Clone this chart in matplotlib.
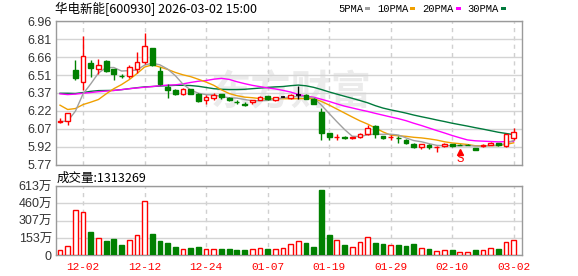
import numpy as np
import matplotlib
matplotlib.use("Agg")
import matplotlib.pyplot as plt
from matplotlib.patches import Rectangle

# ===== data (price in yuan, volume in 万)
dates = ['11-27', '11-28', '12-01', '12-02', '12-03', '12-04', '12-05', '12-08', '12-09', '12-10',
         '12-11', '12-12', '12-15', '12-16', '12-17', '12-18', '12-19', '12-22', '12-23', '12-24',
         '12-25', '12-26', '12-29', '12-30', '12-31', '01-05', '01-06', '01-07', '01-08', '01-09',
         '01-12', '01-13', '01-14', '01-15', '01-16', '01-19', '01-20', '01-21', '01-22', '01-23',
         '01-26', '01-27', '01-28', '01-29', '01-30', '02-02', '02-03', '02-04', '02-05', '02-06',
         '02-09', '02-10', '02-11', '02-12', '02-13', '02-24', '02-25', '02-26', '02-27', '03-02']
opens = [6.125, 6.128, 6.558, 6.456, 6.616, 6.564, 6.627, 6.564, 6.508, 6.508,
         6.564, 6.618, 6.740, 6.544, 6.412, 6.393, 6.355, 6.395, 6.357, 6.304,
         6.326, 6.357, 6.320, 6.292, 6.270, 6.288, 6.307, 6.340, 6.307, 6.334,
         6.324, 6.345, 6.346, 6.316, 6.205, 6.029, 5.995, 5.995, 5.988, 5.996,
         6.025, 6.087, 6.008, 5.997, 5.990, 5.973, 5.938, 5.919, 5.932, 5.917,
         5.921, 5.938, 5.935, 5.936, 5.908, 5.924, 5.932, 5.949, 5.924, 5.993]
closes = [6.132, 6.200, 6.489, 6.673, 6.569, 6.597, 6.547, 6.519, 6.505, 6.580,
          6.624, 6.753, 6.599, 6.436, 6.393, 6.357, 6.401, 6.359, 6.299, 6.332,
          6.351, 6.335, 6.304, 6.290, 6.268, 6.304, 6.332, 6.316, 6.332, 6.334,
          6.345, 6.345, 6.318, 6.274, 6.035, 6.000, 6.002, 5.993, 5.995, 6.020,
          6.076, 6.026, 5.988, 5.999, 5.988, 5.952, 5.919, 5.938, 5.916, 5.919,
          5.938, 5.924, 5.930, 5.931, 5.891, 5.936, 5.949, 5.932, 6.020, 6.043]
highs = [6.155, 6.200, 6.640, 6.841, 6.640, 6.646, 6.640, 6.564, 6.525, 6.597,
         6.701, 6.866, 6.740, 6.577, 6.442, 6.400, 6.405, 6.400, 6.365, 6.351,
         6.362, 6.357, 6.329, 6.310, 6.288, 6.304, 6.340, 6.343, 6.335, 6.340,
         6.360, 6.426, 6.355, 6.322, 6.241, 6.029, 6.021, 6.005, 5.998, 6.029,
         6.095, 6.095, 6.008, 6.015, 6.005, 5.982, 5.952, 5.938, 5.944, 5.927,
         5.946, 5.938, 5.938, 5.940, 5.908, 5.944, 5.955, 5.952, 6.020, 6.076]
lows = [6.111, 6.095, 6.475, 6.393, 6.494, 6.522, 6.539, 6.475, 6.486, 6.489,
        6.530, 6.607, 6.591, 6.431, 6.321, 6.350, 6.350, 6.355, 6.293, 6.274,
        6.302, 6.316, 6.299, 6.269, 6.252, 6.269, 6.302, 6.304, 6.300, 6.328,
        6.318, 6.316, 6.312, 6.274, 5.971, 5.971, 5.971, 5.980, 5.985, 5.988,
        6.015, 5.993, 5.985, 5.977, 5.952, 5.940, 5.911, 5.897, 5.899, 5.878,
        5.913, 5.919, 5.928, 5.928, 5.891, 5.918, 5.928, 5.925, 5.915, 5.973]
volumes = [44, 80, 398, 380, 206, 156, 124, 141, 88, 138,
           183, 477, 189, 127, 109, 71, 59, 62, 71, 53,
           53, 53, 53, 47, 47, 53, 68, 53, 53, 62,
           97, 124, 106, 71, 575, 177, 133, 88, 77, 115,
           165, 106, 97, 94, 88, 80, 97, 68, 53, 41,
           50, 44, 32, 32, 44, 50, 68, 53, 115, 131]
ma5 = [6.126, 6.131, 6.213, 6.357, 6.440, 6.530, 6.575, 6.576, 6.547, 6.550,
       6.555, 6.596, 6.612, 6.598, 6.563, 6.508, 6.437, 6.389, 6.362, 6.350,
       6.348, 6.335, 6.324, 6.322, 6.310, 6.300, 6.300, 6.302, 6.310, 6.324,
       6.332, 6.334, 6.335, 6.323, 6.263, 6.194, 6.126, 6.061, 6.005, 6.002,
       6.017, 6.022, 6.021, 6.022, 6.015, 5.991, 5.969, 5.959, 5.943, 5.929,
       5.926, 5.927, 5.925, 5.928, 5.923, 5.922, 5.927, 5.928, 5.946, 5.970]
ma10 = [6.263, 6.227, 6.235, 6.268, 6.288, 6.310, 6.357, 6.400, 6.434, 6.475,
        6.525, 6.580, 6.598, 6.580, 6.560, 6.535, 6.515, 6.500, 6.478, 6.455,
        6.428, 6.390, 6.360, 6.342, 6.330, 6.325, 6.318, 6.314, 6.317, 6.317,
        6.316, 6.317, 6.319, 6.317, 6.294, 6.264, 6.231, 6.198, 6.165, 6.133,
        6.106, 6.074, 6.041, 6.014, 6.009, 6.004, 5.996, 5.991, 5.983, 5.973,
        5.959, 5.949, 5.943, 5.936, 5.926, 5.925, 5.928, 5.927, 5.937, 5.950]
ma20 = [6.357, 6.351, 6.355, 6.362, 6.368, 6.375, 6.380, 6.385, 6.392, 6.400,
        6.406, 6.412, 6.418, 6.425, 6.430, 6.432, 6.440, 6.452, 6.462, 6.468,
        6.479, 6.486, 6.477, 6.458, 6.442, 6.428, 6.417, 6.407, 6.398, 6.386,
        6.372, 6.352, 6.338, 6.329, 6.312, 6.294, 6.274, 6.255, 6.240, 6.225,
        6.211, 6.195, 6.180, 6.165, 6.151, 6.134, 6.113, 6.094, 6.073, 6.052,
        6.032, 6.011, 5.992, 5.974, 5.967, 5.964, 5.961, 5.958, 5.960, 5.961]
ma30 = [6.362, 6.362, 6.360, 6.368, 6.378, 6.384, 6.385, 6.386, 6.392, 6.400,
        6.408, 6.415, 6.418, 6.422, 6.425, 6.428, 6.428, 6.426, 6.420, 6.410,
        6.400, 6.395, 6.393, 6.393, 6.395, 6.400, 6.405, 6.410, 6.415, 6.418,
        6.425, 6.430, 6.424, 6.411, 6.393, 6.373, 6.355, 6.337, 6.320, 6.302,
        6.283, 6.259, 6.239, 6.224, 6.211, 6.197, 6.181, 6.167, 6.154, 6.140,
        6.127, 6.113, 6.101, 6.089, 6.076, 6.064, 6.051, 6.038, 6.028, 6.018]

price_ticks = ['5.77', '5.92', '6.07', '6.22', '6.37', '6.51', '6.66', '6.81', '6.96']
vol_ticks = ['0', '153万', '307万', '460万', '613万']
date_labels = ['12-02', '12-12', '12-24', '01-07', '01-19', '01-29', '02-10', '03-02']
ma_names = ['5PMA', '10PMA', '20PMA', '30PMA']
title = "华电新能[600930] 2026-03-02 15:00"
last_volume = 1313269
signal_date, signal_text = '02-11', 'S'

# ===== styles
RED = '#ff0000'
GREEN = '#008000'
GRID = '#d4d4d4'
FRAME = '#9a9a9a'
MA_COLORS = ['#a0a0a0', '#f0a000', '#ff00ff', '#007a3c']
CJK = ['Noto Sans CJK SC', 'DejaVu Sans']
NUM = ['Liberation Sans', 'Noto Sans CJK SC']
MONO = 'Liberation Mono'

x = np.arange(len(dates))
o, c, h, l = map(np.asarray, (opens, closes, highs, lows))
vol = np.asarray(volumes)
W = 0.62

fig = plt.figure(figsize=(5.78, 2.76), dpi=100)
ax = fig.add_axes([56 / 578, 1 - 164.5 / 276, 466 / 578, 143.2 / 276])
axv = fig.add_axes([56 / 578, 1 - 255.3 / 276, 466 / 578, 69.3 / 276], sharex=ax)

date_pos = [dates.index(d) for d in date_labels]

for a in (ax, axv):
    for s in a.spines.values():
        s.set_color(FRAME)
        s.set_linewidth(1)
    a.tick_params(length=0, colors='#333333')
    a.set_xticks(date_pos)
    a.grid(axis='y', color=GRID, lw=1, ls='-', zorder=0)
    a.grid(axis='x', color='#d0d0d0', lw=1, ls=(0, (3, 3)), zorder=0)
    a.set_axisbelow(True)

ax.set_xlim(-0.52, len(dates) + 0.08)

# ===== price panel
pt = [float(t) for t in price_ticks]
ax.set_ylim(pt[0], pt[-1])
ax.set_yticks(np.linspace(pt[0], pt[-1], len(pt)))
ax.set_yticklabels(price_ticks, fontsize=9, family=NUM)
ax.tick_params(axis='y', pad=3)
ax.tick_params(axis='x', labelbottom=False)

ax.text(0.505, 0.5, '东方财富', transform=ax.transAxes, fontsize=29,
        family=CJK, fontweight='bold', color='#ebebeb', ha='center', va='center', zorder=0.5)

for ma, col in zip((ma30, ma20, ma10, ma5), MA_COLORS[::-1]):
    ax.plot(x, ma, color=col, lw=1, zorder=2)

up = c > o
dn = c < o
flat = c == o
# wicks
ax.vlines(x[up], c[up], h[up], color=RED, lw=1, zorder=3)
ax.vlines(x[up], l[up], o[up], color=RED, lw=1, zorder=3)
ax.vlines(x[dn], l[dn], h[dn], color=GREEN, lw=1, zorder=3)
ax.vlines(x[flat], l[flat], h[flat], color='black', lw=1, zorder=3)
# bodies
ax.bar(x[up], c[up] - o[up], W, bottom=o[up], facecolor='white', edgecolor=RED, lw=1, zorder=4)
ax.bar(x[dn], o[dn] - c[dn], W, bottom=c[dn], facecolor=GREEN, edgecolor=GREEN, lw=1, zorder=4)
ax.hlines(o[flat], x[flat] - W / 2, x[flat] + W / 2, color='black', lw=1.2, zorder=4)

si = dates.index(signal_date)
ax.plot([si], [l[si] - 0.05], marker='^', ms=4, color=RED, zorder=5, clip_on=False)
ax.text(si, l[si] - 0.06, signal_text, color=RED, fontsize=9, family=MONO,
        ha='center', va='top', zorder=5)

# ===== volume panel
vt = [float(t.rstrip('万')) for t in vol_ticks]
axv.set_ylim(vt[0], vt[-1])
axv.set_yticks(np.linspace(vt[0], vt[-1], len(vt)))
axv.set_yticklabels(vol_ticks, fontsize=9, family=NUM)
axv.tick_params(axis='y', pad=3)
prev = np.r_[o[0], c[:-1]]
vup = c >= prev
axv.bar(x[vup], vol[vup], W, facecolor='white', edgecolor=RED, lw=1, zorder=3)
axv.bar(x[~vup], vol[~vup], W, facecolor=GREEN, edgecolor=GREEN, lw=1, zorder=3)
axv.set_xticklabels(date_labels, fontsize=8, family=MONO, color=RED)
axv.tick_params(axis='x', pad=5, colors=RED)

# ===== texts
fig.text(55 / 578, 1 - 8.5 / 276, title, fontsize=9, family=CJK, va='center', ha='left')
fig.text(57 / 578, 1 - 178.5 / 276, '成交量:%d' % last_volume, fontsize=9, family=CJK,
         va='center', ha='left')

# legend: name + small colour swatch
fig.canvas.draw()
lx = 338
ly = 276 - 8.8
for name, col in zip(ma_names, MA_COLORS):
    t = fig.text(lx / 578, ly / 276, name, fontsize=7.6, family=MONO, va='center', ha='left')
    bb = t.get_window_extent(renderer=fig.canvas.get_renderer())
    fig.patches.append(Rectangle(((bb.x1 + 2) / 578, (ly - 1.5) / 276), 5 / 578, 3 / 276,
                                 transform=fig.transFigure, facecolor=col, edgecolor='none'))
    lx = bb.x1 + 14

fig.savefig('out.png', dpi=100)
